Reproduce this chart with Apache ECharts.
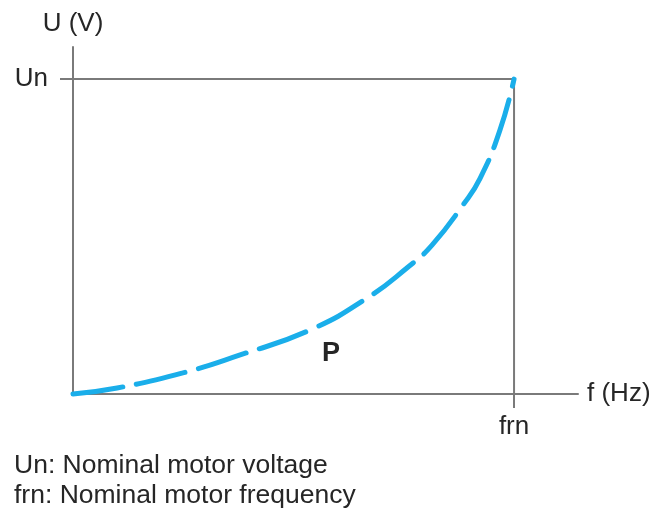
<!DOCTYPE html>
<html>
<head>
<meta charset="utf-8">
<script src="https://cdn.jsdelivr.net/npm/echarts@6/dist/echarts.min.js"></script>
<style>html,body{margin:0;padding:0;background:#fff;}#c{width:657px;height:511px;}</style>
</head>
<body>
<div id="c"></div>
<script>
// Frequency as % of nominal frequency, voltage as % of nominal voltage
const curveF = [0, 10, 24.9, 37.9, 53.7, 66.7, 75.7, 81.4, 88.4, 92.3, 96.8, 100];
const curveU = [0, 1.9, 6.7, 12.4, 20.3, 30.5, 40, 47.3, 60, 68.5, 83.8, 100];
const nominalF = 100;
const nominalU = 100;
const xTickLabels = ['frn'];
const yTickLabels = ['Un'];
const notes = ['Un: Nominal motor voltage', 'frn: Nominal motor frequency'];
const curveLabel = 'P';
const labelPos = [58.5, 13];

const FONT = '"Liberation Sans", Arial, sans-serif';
const TXT = '#262626';
const GRAY = '#7a7a7a';

const chart = echarts.init(document.getElementById('c'));
chart.setOption({
  animation: false,
  grid: { left: 73, top: 47, right: 79, bottom: 117, containLabel: false },
  xAxis: {
    type: 'value', min: 0, max: 114.5,
    name: 'f (Hz)', nameLocation: 'end', nameGap: 9,
    nameTextStyle: { fontFamily: FONT, fontSize: 26, color: TXT, verticalAlign: 'middle' },
    axisLine: { show: true, lineStyle: { color: GRAY, width: 2 } },
    axisTick: { show: true, customValues: [nominalF], length: 14, lineStyle: { color: GRAY, width: 2 } },
    axisLabel: { show: true, customValues: [nominalF], formatter: () => xTickLabels[0], margin: 20,
      fontFamily: FONT, fontSize: 26, color: TXT },
    splitLine: { show: false }
  },
  yAxis: {
    type: 'value', min: 0, max: 110.2,
    name: 'U (V)', nameLocation: 'end', nameGap: 10,
    nameTextStyle: { fontFamily: FONT, fontSize: 26, color: TXT, align: 'center' },
    axisLine: { show: true, lineStyle: { color: GRAY, width: 2 } },
    axisTick: { show: true, customValues: [nominalU], length: 13, lineStyle: { color: GRAY, width: 2 } },
    axisLabel: { show: true, customValues: [nominalU], formatter: () => yTickLabels[0], margin: 25,
      fontFamily: FONT, fontSize: 26, color: TXT },
    splitLine: { show: false }
  },
  graphic: notes.map((t, i) => ({
    type: 'text', left: 14, top: 452 + i * 30,
    style: { text: t, font: '26.5px ' + FONT, fill: TXT }
  })),
  series: [
    {
      type: 'line', clip: false, symbol: 'none', silent: true,
      data: [[0, nominalU], [nominalF, nominalU], [nominalF, 0]],
      lineStyle: { color: GRAY, width: 2 },
      z: 1
    },
    {
      type: 'line', smooth: 0.5, symbol: 'none', clip: false,
      data: curveF.map((f, i) => [f, curveU[i]]),
      lineStyle: { color: '#1aaeea', width: 5, type: [50, 14], cap: 'round' },
      markPoint: {
        symbol: 'circle', symbolSize: 0,
        data: [{ coord: labelPos }],
        label: { show: true, position: 'inside', formatter: curveLabel,
          fontFamily: FONT, fontSize: 27, fontWeight: 'bold', color: TXT }
      },
      z: 3
    }
  ]
});
</script>
</body>
</html>
